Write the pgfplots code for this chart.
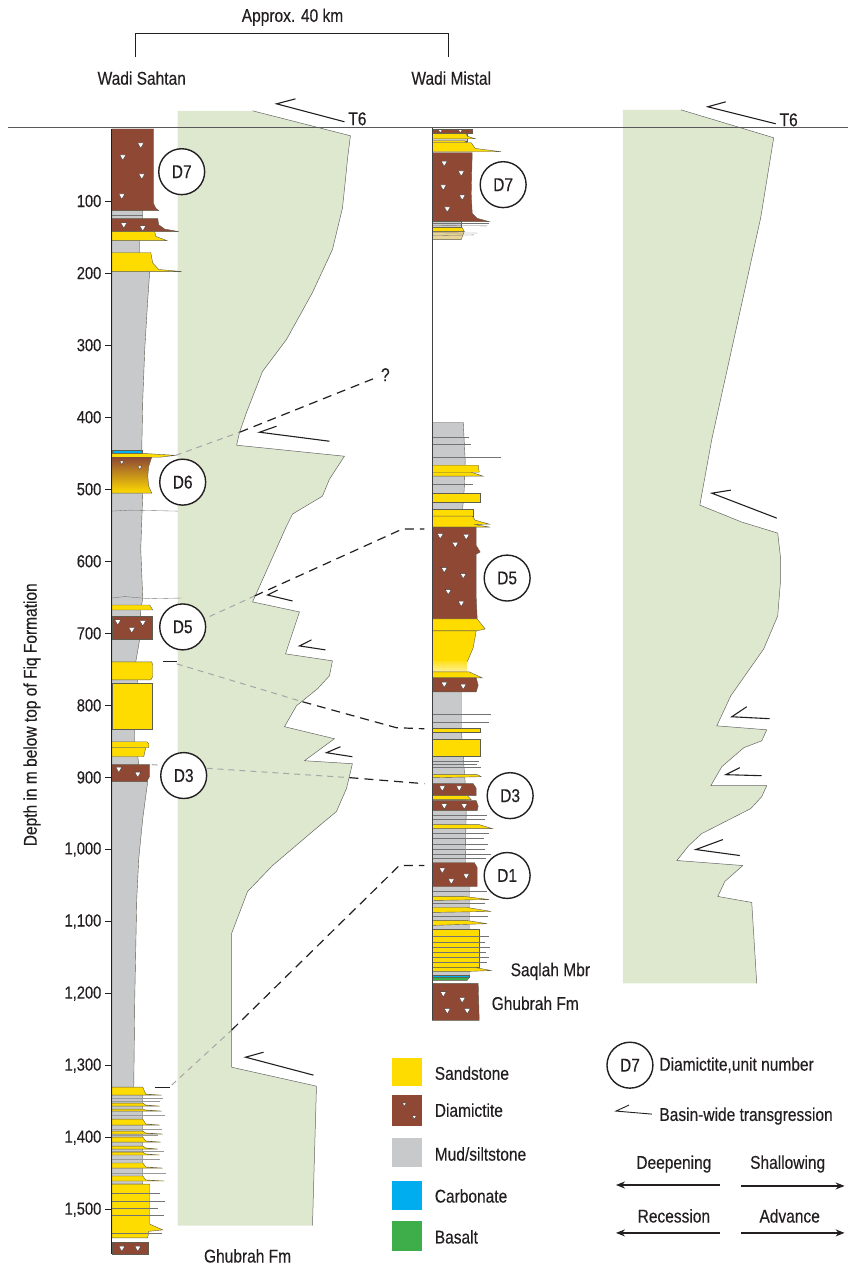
\documentclass[border=0pt]{standalone}
\usepackage{pgfplots}
\pgfplotsset{compat=1.18}
\usetikzlibrary{arrows.meta}
\usepackage{fontspec}
\setmainfont{Liberation Sans}[FakeStretch=0.84, FakeBold=0.3]

\definecolor{sand}{RGB}{255,220,0}
\definecolor{diam}{RGB}{142,72,52}
\definecolor{mud}{RGB}{200,201,203}
\definecolor{carb}{RGB}{0,174,239}
\definecolor{basalt}{RGB}{61,174,73}
\definecolor{shelf}{RGB}{221,232,207}
\definecolor{tan}{RGB}{230,211,150}
\definecolor{edge}{RGB}{95,92,80}
\definecolor{ink}{RGB}{35,31,32}

\newcommand{\lbl}{\fontsize{18.5}{21}\selectfont}

\tikzset{
  bed/.style={line width=0.4pt, draw=edge},
  sandbed/.style={bed, fill=sand},
  diambed/.style={bed, fill=diam},
  mudbed/.style={bed, fill=mud},
  transg/.style={ink, line width=1.1pt, line join=miter},
  corr/.style={ink, line width=1.2pt, dash pattern=on 9pt off 6pt},
  corrfaint/.style={black!35, line width=1pt, dash pattern=on 6pt off 5pt},
  shelfedge/.style={draw=black!60, line width=0.5pt},
  thinline/.style={draw=black!55, line width=0.35pt},
}
\pgfplotsset{
  clasts/.style={only marks, mark=triangle*, mark size=3.5pt,
    mark options={rotate=180, fill=white, draw=black!80, line width=0.3pt}},
  smallclasts/.style={clasts, mark size=2.3pt},
}

% unit number in a circle
\newcommand{\unitlabel}[3]{\node[circle, draw=ink, line width=1.4pt, fill=white,
  minimum size=46pt, inner sep=0pt, text=ink, font=\lbl] at (axis cs:#1,#2) {#3};}

\begin{document}
\begin{tikzpicture}[every node/.style={text=ink}]
\begin{axis}[
  x=1pt, y=0.7217pt,
  scale only axis,
  xmin=112, xmax=849,
  ymin=-179, ymax=1575.1,
  y dir=reverse,
  clip=false,
  axis line style={draw=none},
  xtick=\empty,
  ytick={100,200,...,1500},
  ytick pos=left,
  tick align=outside,
  major tick length=7pt,
  tick style={ink, line width=0.9pt},
  /pgf/number format/1000 sep={,},
  /pgf/number format/assume math mode=true,
  tick label style={font=\fontsize{17.5}{20}\selectfont, text=ink},
]

% page extent
\path (axis cs:0,-179) rectangle (axis cs:849,1575.1);

% ---------- relative water-depth curves ----------
\addplot[fill=shelf, draw=none] coordinates {
 (178,-25.2) (253,-25.2) (351,9.4) (348,42.7) (346,70.8) (343,110) (333,167.4)
 (313,227) (287,292.1) (263,336.4) (247,393.2) (240,420.9) (237,438.9)
 (345,454.2) (330,486.1) (323,509.6) (293,534.5) (287,551.1) (253,656.4)
 (300,670.3) (286,728.5) (333,738.2) (330,759.0) (318,777.0) (297,800.5)
 (285,829.6) (335,846.3) (305,876.8) (353,881.0) (347,915.6) (337,947.4)
 (320,966.9) (273,1022.3) (248,1058.3) (232,1116.5) (232,1302.2)
 (317,1328.5) (313,1521.9) (178,1521.9)} -- cycle;
\addplot[shelfedge] coordinates {
 (253,-25.2) (351,9.4) (348,42.7) (346,70.8) (343,110) (333,167.4)
 (313,227) (287,292.1) (263,336.4) (247,393.2) (240,420.9) (237,438.9)
 (345,454.2) (330,486.1) (323,509.6) (293,534.5) (287,551.1) (253,656.4)
 (300,670.3) (286,728.5) (333,738.2) (330,759.0) (318,777.0) (297,800.5)
 (285,829.6) (335,846.3) (305,876.8) (353,881.0) (347,915.6) (337,947.4)
 (320,966.9) (273,1022.3) (248,1058.3) (232,1116.5) (232,1302.2)
 (317,1328.5) (313,1521.9)};

\addplot[fill=shelf, draw=none] coordinates {
 (624,-26.6) (682,-26.6) (775,12.2) (762,123.0) (713,430.6) (701,522.1)
 (743,545.6) (779,560.9) (782,596.9) (782,624.6) (779,675.9) (765,721.6)
 (732,786.8) (718,828.4) (768,833.9) (763,849.2) (745,858.8) (723,885.1)
 (712,911.5) (768,911.5) (763,926.7) (752,943.3) (703,977.9) (690,994.5)
 (678,1015.3) (744,1022.3) (726,1044.4) (719,1065.2) (753,1073.5)
 (758,1185.8) (624,1185.8)} -- cycle;
\addplot[shelfedge] coordinates {
 (682,-26.6) (775,12.2) (762,123.0) (713,430.6) (701,522.1)
 (743,545.6) (779,560.9) (782,596.9) (782,624.6) (779,675.9) (765,721.6)
 (732,786.8) (718,828.4) (768,833.9) (763,849.2) (745,858.8) (723,885.1)
 (712,911.5) (768,911.5) (763,926.7) (752,943.3) (703,977.9) (690,994.5)
 (678,1015.3) (744,1022.3) (726,1044.4) (719,1065.2) (753,1073.5)
 (758,1185.8)};

% datum: top of Fiq Formation
\draw[black!65, line width=0.8pt] (axis cs:8,-1.5) -- (axis cs:849,-1.5);

% faint correlation segments across the curve
\draw[corrfaint] (axis cs:176,453) -- (axis cs:240,420.9);
\draw[corrfaint] (axis cs:200,682.9) -- (axis cs:255,648.2);
\draw[corrfaint] (axis cs:177,742.4) -- (axis cs:303,795.0);
\draw[corrfaint] (axis cs:152,882.3) -- (axis cs:350,900.3);
\draw[corrfaint] (axis cs:172,1327) -- (axis cs:232,1250.8);

% ---------- Wadi Sahtan section ----------
\addplot[mudbed] coordinates {(112,113.3) (143,113.3) (143,124.4) (140,142.4)
 (140,171.5) (150,197.9) (148,236.7) (145,305.9) (143,375.2) (142,445.9)
 (143,505.5) (141,583.1) (143,651) (141,667.6) (140,707.8) (136,739.6)
 (138,764.6) (138,768.7) (135,832.5) (135,850.5) (138,871.3) (139,882.3)
 (148,905.9) (147,915.6) (143,957.2) (139,1012.6) (137,1068) (135,1206.6)
 (134,1329.9) (143,1341) (143,1464.4) (112,1464.4)} -- cycle;
\draw[thinline] (axis cs:112,119) -- (axis cs:143,119);
\draw[thinline] (axis cs:112,530.4) -- (axis cs:130,529) -- (axis cs:178,530.4);
\draw[thinline] (axis cs:112,651) -- (axis cs:125,649) -- (axis cs:150,652) -- (axis cs:182,651);

\addplot[diambed] coordinates {(112,0) (154,0) (154,104) (156,110) (159,113.3) (112,113.3)} -- cycle;
\addplot[diambed] coordinates {(112,124.4) (158,124.4) (159,133) (165,139) (179,142.4) (112,142.4)} -- cycle;
\addplot[sandbed] coordinates {(112,142.4) (155,142.4) (156,149) (167,154.9) (112,154.9)} -- cycle;
\addplot[sandbed] coordinates {(112,171.5) (151,171.5) (153,186) (159,195) (182,197.9) (112,197.9)} -- cycle;
\addplot[bed, fill=carb] coordinates {(112,445.9) (142,445.9) (142,450.5) (112,450.5)} -- cycle;
\addplot[sandbed] coordinates {(112,450.5) (146,450.5) (176,453) (160,455.6) (112,455.6)} -- cycle;
\addplot[bed, top color=diam, middle color=diam!45!sand, bottom color=sand] coordinates {
 (112,455.6) (152,455.6) (149,468) (148,482) (149,496) (152,505.5) (112,505.5)} -- cycle;
\addplot[sandbed] coordinates {(112,660.7) (150,660.7) (153,667.6) (112,667.6)} -- cycle;
\addplot[diambed] coordinates {(112,675.9) (152,675.9) (152,707.8) (112,707.8)} -- cycle;
\addplot[sandbed] coordinates {(112,739.6) (152,739.6) (153,744) (153,760) (151,764.6) (112,764.6)} -- cycle;
\addplot[sandbed] coordinates {(112,768.7) (152,768.7) (152,832.5) (112,832.5)} -- cycle;
\addplot[sandbed] coordinates {(112,850.5) (147,850.5) (149,853) (149,858.8) (112,858.8)} -- cycle;
\addplot[sandbed] coordinates {(112,858.8) (146,858.8) (144,871.3) (112,871.3)} -- cycle;
\addplot[diambed] coordinates {(112,882.3) (150,882.3) (150,898) (147,905.9) (112,905.9)} -- cycle;

% interbedded sandstone and mudstone at the base
\foreach \t/\b/\f in {1329.9/1341/162, 1352/1356.2/160, 1360.4/1363.1/162,
  1374.2/1382.5/160, 1390.9/1395/163, 1399.2/1406.1/161, 1411.7/1415.8/158,
  1420/1424.1/160, 1435.2/1442.2/163, 1453.2/1460.2/165} {
  \edef\bedcmd{\noexpand\addplot[sandbed] coordinates {(112,\t) (143,\t) (146,\b-1.5) (\f,\b) (112,\b)} -- cycle;}
  \bedcmd
}
\foreach \y/\e in {1345.2/163, 1349.3/160, 1368.7/165, 1388.1/162, 1396.4/158,
  1418.6/164, 1429.6/160, 1449.0/166} {
  \edef\linecmd{\noexpand\draw[thinline, black!40] (axis cs:112,\y) -- (axis cs:\e,\y);}
  \linecmd
}
\addplot[sandbed] coordinates {(112,1464.4) (150,1464.4) (150,1520) (163,1528) (149,1530) (148,1539.1) (112,1539.1)} -- cycle;
\foreach \y/\e in {1476.7/160, 1487.8/165, 1497.5/158, 1507.2/164, 1532.2/162} {
  \edef\linecmd{\noexpand\draw[thinline] (axis cs:112,\y) -- (axis cs:\e,\y);}
  \linecmd
}
\addplot[diambed] coordinates {(112,1544.7) (148,1544.7) (148,1561.3) (112,1561.3)} -- cycle;

\addplot[clasts] coordinates {(141,21.9) (123,38.5) (142,64.8) (122,92.6)
 (124,132.7) (143,136.8) (118,683.6) (132,694.6) (143,684.9)
 (119,888.2) (138,895.1) (122,1553) (138,1553)};
\addplot[smallclasts] coordinates {(122,462.5) (140,469.4)};

% section base line
\draw[ink, line width=1pt] (axis cs:112,0) -- (axis cs:112,1561.3);

% ---------- Wadi Mistal section ----------
\addplot[mudbed] coordinates {(433,5.3) (468,5.3) (468,16.3) (433,16.3)} -- cycle;
\addplot[diambed] coordinates {(433,0) (473,0) (473,5.3) (433,5.3)} -- cycle;
\addplot[sandbed] coordinates {(433,6.7) (467,6.7) (468,10) (476,13.6) (433,13.6)} -- cycle;
\addplot[sandbed] coordinates {(433,16.3) (465,16.3) (468,19.1) (433,19.1)} -- cycle;
\addplot[sandbed] coordinates {(433,19.1) (472,19.1) (476,27) (502,31.6) (433,31.6)} -- cycle;
\addplot[diambed] coordinates {(433,33) (473,33) (472,90) (473,117) (478,124) (490,128.6) (433,128.6)} -- cycle;
\addplot[mudbed] coordinates {(433,128.6) (462,128.6) (462,136.9) (433,136.9)} -- cycle;
\draw[thinline] (axis cs:433,131) -- (axis cs:490,131);
\draw[thinline] (axis cs:433,134) -- (axis cs:488,134.5);
\addplot[sandbed] coordinates {(433,136.9) (463,136.9) (465,142.4) (433,142.4)} -- cycle;
\addplot[bed, fill=tan] coordinates {(433,142.4) (465,142.4) (462,153.5) (433,153.5)} -- cycle;
\draw[thinline] (axis cs:433,144) -- (axis cs:478,144.5);
\draw[thinline] (axis cs:433,148) -- (axis cs:475,147);

\addplot[mudbed] coordinates {(433,407.1) (464,407.1) (466,460) (465,500) (462,552.6)
 (462,781.2) (462,831) (464,870) (466,908) (467,946) (466,1018) (470,1051.4)
 (470,1111) (470,1174.7) (433,1174.7)} -- cycle;
\foreach \y/\e in {427.9/470, 437.6/472, 455.6/502, 493/474, 811.7/492, 822.8/490,
  876.8/480, 881/478, 885.1/482, 952/488, 958/486, 978/490, 984/485, 992/489,
  1000/486, 1006/492, 1012/487, 1058/488, 1075/486, 1092/489} {
  \edef\linecmd{\noexpand\draw[thinline] (axis cs:433,\y) -- (axis cs:\e,\y);}
  \linecmd
}
\addplot[sandbed] coordinates {(433,466.7) (479,466.7) (480,476.4) (433,476.4)} -- cycle;
\addplot[sandbed] coordinates {(433,476.4) (472,476.4) (484,481.9) (433,481.9)} -- cycle;
\addplot[sandbed] coordinates {(433,505.5) (481,505.5) (481,517.9) (433,517.9)} -- cycle;
\addplot[sandbed] coordinates {(433,527.6) (474,527.6) (474,537.3) (433,537.3)} -- cycle;
\addplot[sandbed] coordinates {(433,537.3) (473,537.3) (476,543) (490,548.4) (475,549) (491,552.6) (433,552.6)} -- cycle;
\addplot[diambed] coordinates {(433,552.6) (477,552.6) (477,578) (481,587.2) (477,590) (477,650) (478,680.1) (433,680.1)} -- cycle;
\addplot[sandbed] coordinates {(433,680.1) (478,680.1) (486,694) (477,696.7) (433,696.7)} -- cycle;
\addplot[sandbed] coordinates {(433,696.7) (477,696.7) (474,720) (468,739.6) (433,739.6)} -- cycle;
\addplot[draw=none, top color=sand!85, bottom color=sand!40] coordinates {(433,739.6) (468,739.6) (468,753.5) (433,753.5)} -- cycle;
\addplot[sandbed] coordinates {(433,753.5) (470,753.5) (483,761.8) (433,761.8)} -- cycle;
\addplot[diambed] coordinates {(433,761.8) (477,761.8) (479,772) (477,781.2) (433,781.2)} -- cycle;
\addplot[sandbed] coordinates {(433,831.1) (481,831.1) (481,836.6) (433,836.6)} -- cycle;
\addplot[sandbed] coordinates {(433,846.3) (481,846.3) (481,869.9) (433,869.9)} -- cycle;
\addplot[sandbed] coordinates {(433,896.2) (478,896.2) (482,899) (433,900.4)} -- cycle;
\addplot[diambed] coordinates {(433,908.7) (474,908.7) (477,915) (477,925.3) (433,925.3)} -- cycle;
\addplot[sandbed] coordinates {(433,925.3) (468,925.3) (472,930.8) (433,930.8)} -- cycle;
\addplot[diambed] coordinates {(433,932.2) (477,932.2) (479,940) (478,946.1) (433,946.1)} -- cycle;
\addplot[sandbed] coordinates {(433,965.5) (480,965.5) (493,971) (433,971)} -- cycle;
\addplot[diambed] coordinates {(433,1018.1) (475,1018.1) (478,1025) (478,1051.4) (433,1051.4)} -- cycle;
\addplot[sandbed] coordinates {(433,1065.2) (465,1065.2) (490,1069.5) (433,1070.8)} -- cycle;
\addplot[sandbed] coordinates {(433,1080.5) (468,1080.5) (492,1086) (433,1087.4)} -- cycle;
\addplot[sandbed] coordinates {(433,1098.5) (467,1098.5) (488,1103) (433,1105.4)} -- cycle;
\addplot[sandbed] coordinates {(433,1111) (480,1111) (480,1163.6) (433,1163.6)} -- cycle;
\foreach \y/\e in {1120/490, 1128/486, 1136/491, 1143/487, 1150/490, 1157/488} {
  \edef\linecmd{\noexpand\draw[thinline] (axis cs:433,\y) -- (axis cs:\e,\y);}
  \linecmd
}
\addplot[sandbed] coordinates {(433,1163.6) (475,1163.6) (492,1168) (470,1169.2) (433,1169.2)} -- cycle;
\addplot[bed, fill=carb] coordinates {(433,1174.7) (470,1174.7) (470,1177.5) (433,1177.5)} -- cycle;
\addplot[bed, fill=basalt] coordinates {(433,1177.5) (470,1177.5) (468,1181.6) (433,1181.6)} -- cycle;
\addplot[diambed] coordinates {(433,1185.8) (479,1185.8) (480,1237.1) (433,1237.1)} -- cycle;

\addplot[clasts] coordinates {(445,47.1) (462,60.7) (444,80.1) (463,93.9) (448,110.6)
 (441,563.9) (467,565.2) (456,576.3) (445,610.9) (464,619.2) (449,641.4) (462,657.9)
 (445,770.3) (464,773) (443,914.2) (460,914.2) (445,939.1) (465,939.1)
 (443,1028.2) (452,1043.4) (467,1036.4)
 (444,1199.7) (463,1208.0) (448,1223.2) (468,1223.2)};
\addplot[smallclasts] coordinates {(441,2.5) (461,2.5)};

\draw[black!75, line width=0.8pt] (axis cs:433,-1.5) -- (axis cs:433,1237.1);

% ---------- correlation lines ----------
\draw[corr] (axis cs:240,420.9) -- (axis cs:375,346.1);
\draw[corr] (axis cs:255,648.2) -- (axis cs:403,555.3) -- (axis cs:425,555.3);
\draw[ink, line width=1.2pt] (axis cs:163,739.6) -- (axis cs:177,739.6);
\draw[corr] (axis cs:303,795.0) -- (axis cs:397,831) -- (axis cs:425,832.5);
\draw[corr] (axis cs:350,900.3) -- (axis cs:425,908.7);
\draw[ink, line width=1.2pt] (axis cs:155,1329.9) -- (axis cs:170,1329.9);
\draw[corr] (axis cs:232,1250.8) -- (axis cs:400,1022.3) -- (axis cs:425,1022.3);
\node[font=\lbl] at (axis cs:386,341) {?};

% ---------- transgressions ----------
\draw[transg] (axis cs:296,-41.8) -- (axis cs:277,-34.9) -- (axis cs:345,-10.0);
\draw[transg] (axis cs:277,412.6) -- (axis cs:260,420.9) -- (axis cs:330,433.4);
\draw[transg] (axis cs:278,639.9) -- (axis cs:268,646.8) -- (axis cs:293,655.1);
\draw[transg] (axis cs:312,709.1) -- (axis cs:300,717.5) -- (axis cs:326,723.0);
\draw[transg] (axis cs:341,857.4) -- (axis cs:327,865.7) -- (axis cs:353,871.3);
\draw[transg] (axis cs:264,1281.4) -- (axis cs:246,1288.3) -- (axis cs:314,1313.2);
\draw[transg] (axis cs:727,-37.7) -- (axis cs:709,-30.8) -- (axis cs:777,-7.2);
\draw[transg] (axis cs:732,501.3) -- (axis cs:713,505.5) -- (axis cs:778,540.1);
\draw[transg] (axis cs:748,801.9) -- (axis cs:733,815.8) -- (axis cs:771,818.5);
\draw[transg] (axis cs:741,886.5) -- (axis cs:727,896.2) -- (axis cs:763,897.6);
\draw[transg] (axis cs:724,986.3) -- (axis cs:697,1000.1) -- (axis cs:741,1008.4);
\node[font=\lbl] at (axis cs:358,-14.1) {T6};
\node[font=\lbl] at (axis cs:790,-12.7) {T6};

% ---------- unit numbers ----------
\unitlabel{182}{59.3}{D7}
\unitlabel{183}{490.2}{D6}
\unitlabel{183}{691.1}{D5}
\unitlabel{184}{897.4}{D3}
\unitlabel{504}{77.3}{D7}
\unitlabel{508}{623.3}{D5}
\unitlabel{511}{925.3}{D3}
\unitlabel{508}{1036.1}{D1}

% ---------- headings ----------
\node[font=\lbl] at (axis cs:293,-155.2) {Approx. 40 km};
\draw[ink, line width=1pt] (axis cs:136,-99.8) -- (axis cs:136,-131.9) -- (axis cs:449,-131.9) -- (axis cs:449,-99.8);
\node[font=\lbl] at (axis cs:142,-70.6) {Wadi Sahtan};
\node[font=\lbl] at (axis cs:452,-70.6) {Wadi Mistal};
\node[font=\lbl, rotate=90] at (axis cs:32,813) {Depth in m below top of Fiq Formation};
\node[font=\lbl, anchor=west] at (axis cs:508,1169.2) {Saqlah Mbr};
\node[font=\lbl, anchor=west] at (axis cs:489,1213.5) {Ghubrah Fm};
\node[font=\lbl] at (axis cs:248,1564.1) {Ghubrah Fm};

% ---------- key ----------
\addplot[fill=sand, draw=none] coordinates {(393,1289.0) (423,1289.0) (423,1327.8) (393,1327.8)} -- cycle;
\addplot[fill=diam, draw=none] coordinates {(393,1341.0) (423,1341.0) (423,1384.0) (393,1384.0)} -- cycle;
\addplot[smallclasts] coordinates {(405,1353.3) (415,1371.3)};
\addplot[fill=mud, draw=none] coordinates {(393,1400.6) (423,1400.6) (423,1440.8) (393,1440.8)} -- cycle;
\addplot[fill=carb, draw=none] coordinates {(393,1460.2) (423,1460.2) (423,1500.4) (393,1500.4)} -- cycle;
\addplot[fill=basalt, draw=none] coordinates {(393,1515.8) (423,1515.8) (423,1557.3) (393,1557.3)} -- cycle;
\node[font=\lbl, anchor=west] at (axis cs:432,1310.5) {Sandstone};
\node[font=\lbl, anchor=west] at (axis cs:432,1361.8) {Diamictite};
\node[font=\lbl, anchor=west] at (axis cs:432,1422.7) {Mud/siltstone};
\node[font=\lbl, anchor=west] at (axis cs:432,1480.9) {Carbonate};
\node[font=\lbl, anchor=west] at (axis cs:432,1537.7) {Basalt};

\unitlabel{631}{1299.4}{D7}
\node[font=\lbl, anchor=west] at (axis cs:657,1299.4) {Diamictite,unit number};
\draw[transg, line width=0.9pt] (axis cs:630,1354.8) -- (axis cs:617,1363.1) -- (axis cs:653,1367.3);
\node[font=\lbl, anchor=west] at (axis cs:657,1370.1) {Basin-wide transgression};
\node[font=\lbl] at (axis cs:675,1436.6) {Deepening};
\node[font=\lbl] at (axis cs:789,1436.6) {Shallowing};
\draw[ink, line width=1.3pt, -{Stealth[length=9pt, width=7pt]}] (axis cs:721,1465.7) -- (axis cs:617,1465.7);
\draw[ink, line width=1.3pt, -{Stealth[length=9pt, width=7pt]}] (axis cs:742,1467) -- (axis cs:846,1467);
\node[font=\lbl] at (axis cs:675,1508.6) {Recession};
\node[font=\lbl] at (axis cs:791,1508.6) {Advance};
\draw[ink, line width=1.3pt, -{Stealth[length=9pt, width=7pt]}] (axis cs:721,1532.2) -- (axis cs:617,1532.2);
\draw[ink, line width=1.3pt, -{Stealth[length=9pt, width=7pt]}] (axis cs:742,1532.2) -- (axis cs:846,1532.2);

\end{axis}
\end{tikzpicture}
\end{document}
